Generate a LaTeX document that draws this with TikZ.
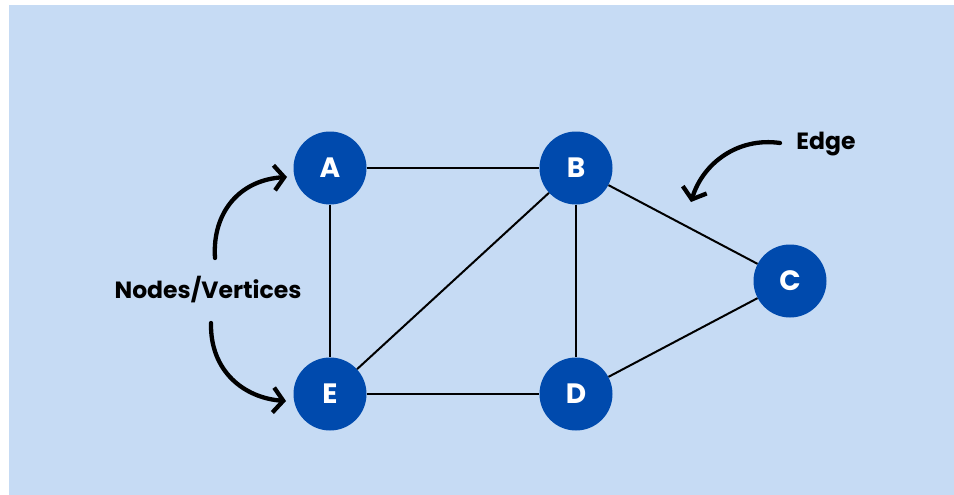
\documentclass[tikz,border=0pt]{standalone}
\usepackage{fontspec}
\setmainfont{Poppins}[UprightFont=* Bold]
\usetikzlibrary{arrows.meta}
\definecolor{bgblue}{HTML}{C6DBF4}
\definecolor{nodeblue}{HTML}{004AAD}
\begin{document}
\begin{tikzpicture}[x=1pt,y=-1pt,
  vertex/.style={circle,fill=nodeblue,minimum size=73pt,inner sep=0pt,
    text=white,font=\fontsize{28}{28}\selectfont},
  link/.style={draw=black,line width=2pt},
  label/.style={font=\fontsize{23.5}{23.5}\selectfont,text=black},
  pointer/.style={line width=4.3pt,line cap=round,line join=round,
    -{Straight Barb[length=10pt,width=25pt,line width=4.3pt]}}]
  % canvas
  \useasboundingbox (0,0) rectangle (954,495);
  \fill[white] (0,0) rectangle (954,495);
  \fill[bgblue] (9,5) rectangle (954,495);

  % vertices
  \node[vertex] (A) at (330,168) {A};
  \node[vertex] (B) at (576,168) {B};
  \node[vertex] (C) at (790,281) {C};
  \node[vertex] (D) at (576,394) {D};
  \node[vertex] (E) at (330,394) {E};

  % edges
  \draw[link] (A) -- (B);
  \draw[link] (A) -- (E);
  \draw[link] (B) -- (E);
  \draw[link] (B) -- (D);
  \draw[link] (B) -- (C);
  \draw[link] (E) -- (D);
  \draw[link] (D) -- (C);

  % annotations
  \node[label] (nv) at (208,290) {Nodes/Vertices};
  \node[label] (edge) at (826,144) {Edge};

  \coordinate (upS) at (215,258);
  \coordinate (upT) at (287,177);
  \coordinate (loS) at (211,323);
  \coordinate (loT) at (286,401);
  \coordinate (edS) at (780,143);
  \coordinate (edT) at (691,202);

  \draw[pointer] (upS) .. controls (212,212) and (240,180) .. (upT);
  \draw[pointer] (loS) .. controls (210,372) and (245,398) .. (loT);
  \draw[pointer] (edS) .. controls (738,137) and (703,163) .. (edT);
\end{tikzpicture}
\end{document}
